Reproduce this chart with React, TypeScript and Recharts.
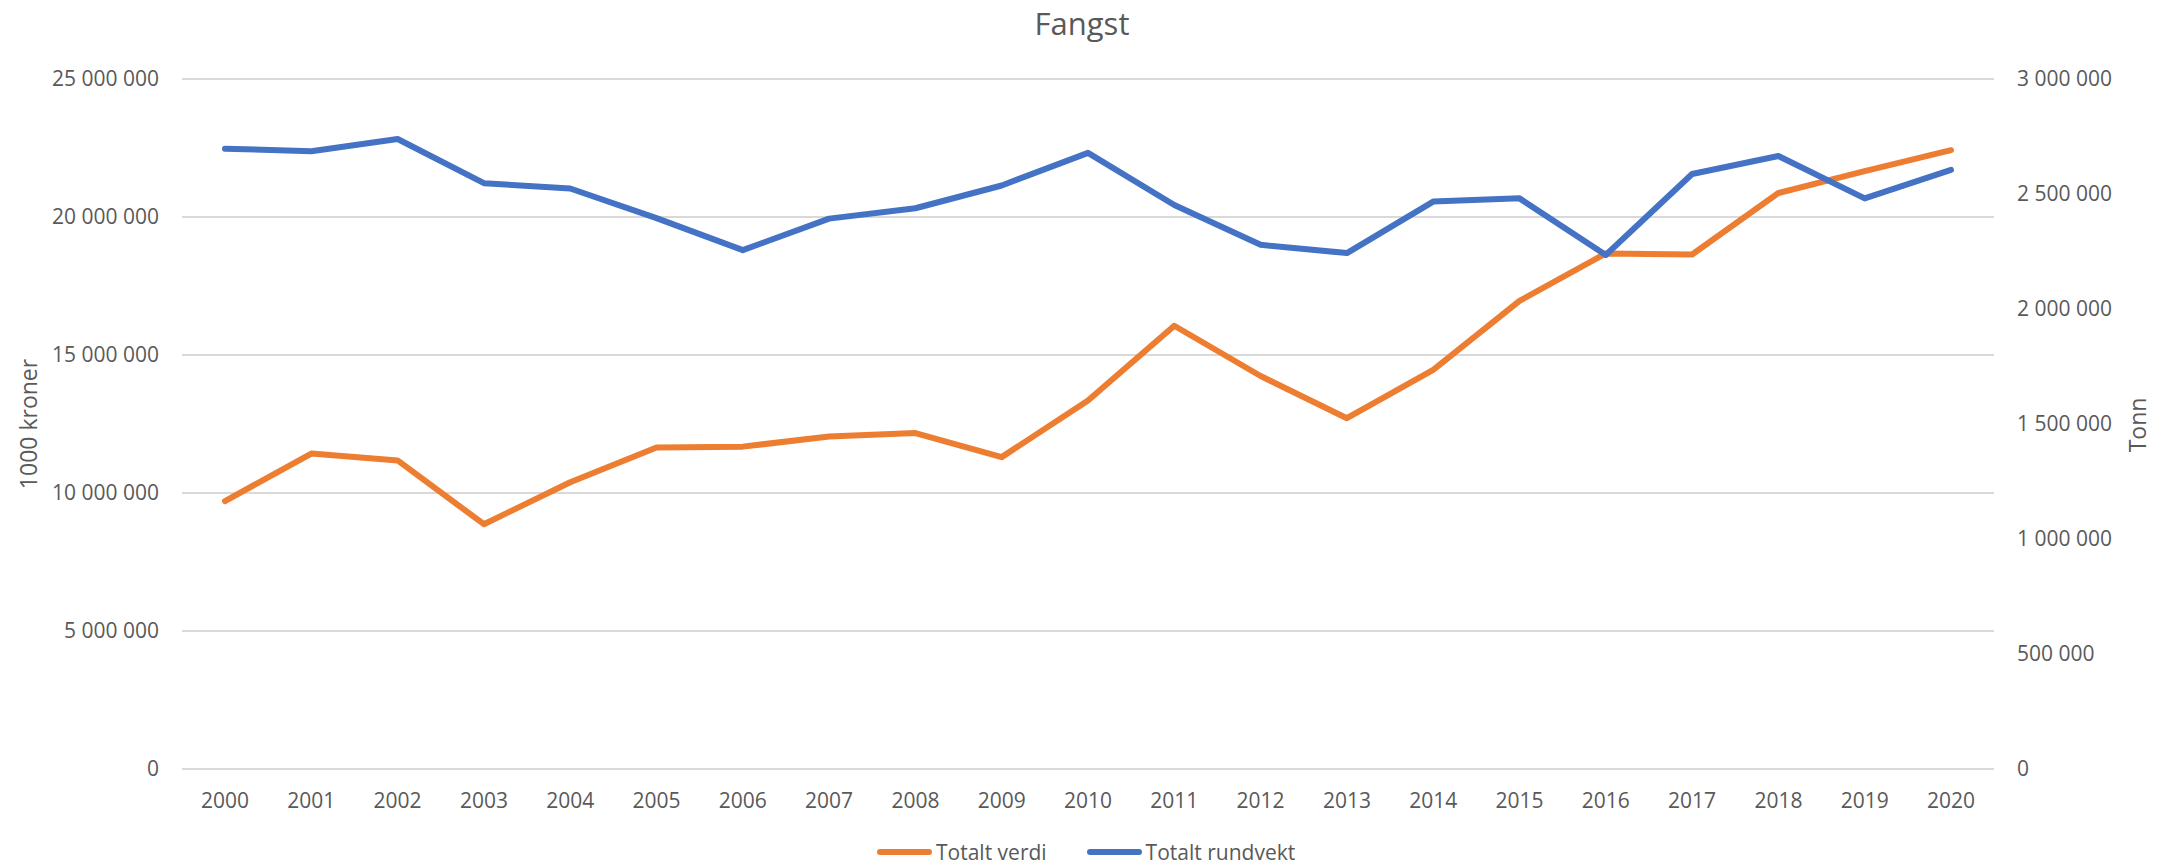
import { CartesianGrid, Legend, Line, LineChart, XAxis, YAxis } from 'recharts';

const years = [
  '2000', '2001', '2002', '2003', '2004', '2005', '2006', '2007', '2008', '2009', '2010',
  '2011', '2012', '2013', '2014', '2015', '2016', '2017', '2018', '2019', '2020',
];

// 1000 kroner (left axis)
const totaltVerdi = [
  9710000, 11430000, 11180000, 8870000, 10390000, 11650000, 11680000, 12050000, 12170000,
  11300000, 13350000, 16060000, 14240000, 12710000, 14460000, 16960000, 18680000, 18640000,
  20870000, 21660000, 22420000,
];

// tonn (right axis)
const totaltRundvekt = [
  2697000, 2686000, 2739000, 2547000, 2524000, 2395000, 2256000, 2393000, 2438000, 2537000,
  2679000, 2452000, 2279000, 2243000, 2467000, 2481000, 2235000, 2587000, 2665000, 2481000,
  2605000,
];

const leftTicks = [0, 5000000, 10000000, 15000000, 20000000, 25000000];
const rightTicks = [0, 500000, 1000000, 1500000, 2000000, 2500000, 3000000];

const data = years.map((year, i) => ({
  year,
  verdi: totaltVerdi[i],
  rundvekt: totaltRundvekt[i],
}));

const ORANGE = '#ED7D31';
const BLUE = '#4472C4';
const TEXT = '#595959';
const FONT = '"Open Sans", "Noto Sans", sans-serif';

// Norwegian style grouping: "25 000 000"
const fmt = (v: number) => String(v).replace(/\B(?=(\d{3})+(?!\d))/g, ' ');

const legendItems = [
  { label: 'Totalt verdi', color: ORANGE },
  { label: 'Totalt rundvekt', color: BLUE },
];

function LegendContent() {
  return (
    <div style={{ display: 'flex', alignItems: 'center', height: 32, fontFamily: FONT, fontSize: 21, color: TEXT }}>
      {legendItems.map((item, i) => (
        <div key={item.label} style={{ display: 'flex', alignItems: 'center', marginLeft: i === 0 ? 0 : 40 }}>
          <svg width={55} height={10} style={{ marginRight: 4 }}>
            <line x1={3} y1={5} x2={52} y2={5} stroke={item.color} strokeWidth={6} strokeLinecap="round" />
          </svg>
          <span style={{ whiteSpace: 'nowrap' }}>{item.label}</span>
        </div>
      ))}
    </div>
  );
}

export default function App() {
  const tickStyle = { fill: TEXT, fontSize: 21, fontFamily: FONT };
  return (
    <div style={{ position: 'absolute', left: 0, top: 0, width: 2175, height: 866, background: '#fff' }}>
      <LineChart width={2175} height={866} data={data} margin={{ top: 79, right: 0, bottom: 37, left: 0 }}>
        <CartesianGrid yAxisId="left" vertical={false} stroke="#D9D9D9" strokeWidth={2} />
        <XAxis
          dataKey="year"
          interval={0}
          padding={{ left: 43, right: 43 }}
          height={60}
          tickLine={false}
          axisLine={false}
          tickSize={0}
          tickMargin={24}
          tick={tickStyle}
        />
        <YAxis
          yAxisId="left"
          width={182}
          domain={[0, 25000000]}
          ticks={leftTicks}
          tickFormatter={fmt}
          tickLine={false}
          axisLine={false}
          tickSize={0}
          tickMargin={23}
          tick={tickStyle}
        />
        <YAxis
          yAxisId="right"
          orientation="right"
          width={181}
          domain={[0, 3000000]}
          ticks={rightTicks}
          tickFormatter={fmt}
          tickLine={false}
          axisLine={false}
          tickSize={0}
          tickMargin={23}
          tick={{ ...tickStyle, textAnchor: 'start' }}
        />
        <Legend
          verticalAlign="middle"
          align="center"
          content={<LegendContent />}
          wrapperStyle={{ top: 836, left: 877, width: 440, height: 32 }}
        />
        <Line
          yAxisId="left"
          dataKey="verdi"
          name="Totalt verdi"
          stroke={ORANGE}
          strokeWidth={6}
          strokeLinecap="round"
          strokeLinejoin="round"
          dot={false}
          activeDot={false}
          isAnimationActive={false}
        />
        <Line
          yAxisId="right"
          dataKey="rundvekt"
          name="Totalt rundvekt"
          stroke={BLUE}
          strokeWidth={6}
          strokeLinecap="round"
          strokeLinejoin="round"
          dot={false}
          activeDot={false}
          isAnimationActive={false}
        />
      </LineChart>
      <svg
        width={2175}
        height={866}
        style={{ position: 'absolute', left: 0, top: 0, pointerEvents: 'none' }}
      >
        <text x={1082} y={35} textAnchor="middle" fill={TEXT} fontSize={31} fontFamily={FONT}>
          Fangst
        </text>
        <text transform="translate(37,424) rotate(-90)" textAnchor="middle" fill={TEXT} fontSize={23} fontFamily={FONT}>
          1000 kroner
        </text>
        <text transform="translate(2146,425) rotate(-90)" textAnchor="middle" fill={TEXT} fontSize={23} fontFamily={FONT}>
          Tonn
        </text>
      </svg>
    </div>
  );
}
